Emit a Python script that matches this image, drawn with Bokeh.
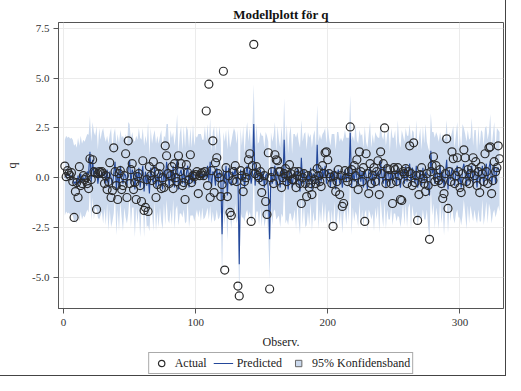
from bokeh.plotting import figure
from bokeh.layouts import column
from bokeh.models import (ColumnDataSource, FixedTicker, NumeralTickFormatter,
                          Legend, LegendItem, Range1d)
from bokeh.embed import file_html
from bokeh.resources import INLINE

obs = list(range(1, 331))

actual = [
    0.58, 0.05, 0.35, 0.2, 0.1, 0.25, -0.2, -2.0, -0.7, -0.25,
    -1.0, 0.55, -0.4, -0.3, 0.1, -0.1, 0.0, -0.3, -0.55, 0.95,
    -0.1, 0.9, 0.3, 0.25, -1.6, 0.2, 0.3, 0.25, 0.3, 0.2,
    -0.3, 0.1, -0.6, -0.2, 0.75, -1.0, -0.65, 1.5, 0.3, -0.4,
    -1.1, 0.2, 0.35, -0.6, -0.4, 0.1, 1.2, -1.0, 1.85, -0.3,
    0.4, 0.7, -0.6, -0.25, -1.1, 0.05, 0.2, -0.4, -1.2, 0.85,
    -1.65, -1.5, -0.1, -1.7, 0.55, 0.1, -0.15, 0.8, 0.3, -1.0,
    -0.35, 0.2, 0.55, -0.55, 0.0, -0.5, 1.6, 1.1, 0.2, -0.3,
    0.1, 0.55, -0.55, 0.7, 0.0, -0.2, 1.1, 0.3, 0.7, -0.4,
    -0.25, -1.1, 0.65, 0.25, -0.1, 1.15, -0.25, 0.1, 0.05, 0.15,
    0.3, -0.8, 0.1, 0.2, 0.25, 0.1, 0.3, 3.35, -0.4, 4.7,
    -1.0, 0.35, 1.85, -0.75, 0.75, 1.0, 0.2, 0.0, -0.95, -0.35,
    5.35, -4.65, 0.5, -0.95, 0.1, -1.75, -1.9, -0.15, 0.3, 0.6,
    -0.2, -5.45, -5.95, 0.35, 0.1, -0.7, -0.2, 0.0, 0.3, 0.9,
    1.2, -2.2, 0.6, 6.7, 0.2, 0.55, 0.1, 0.0, 0.3, -0.75,
    -0.2, 0.1, -1.2, -1.85, 1.25, -5.6, 0.0, 0.3, -0.3, 1.15,
    0.9, 0.85, 0.3, 0.3, -0.5, 0.0, 0.2, 0.45, -0.2, 0.1,
    0.65, 0.2, -0.1, -0.1, 0.3, -0.5, 0.1, 0.3, -0.3, -1.3,
    0.0, 0.2, -0.3, -0.95, 0.1, -0.5, -0.3, -0.85, 0.2, -0.1,
    -0.3, 0.45, 0.1, -0.2, -0.45, 0.6, 0.2, 1.25, 1.3, 0.9,
    0.2, 0.03, -0.3, -2.45, 0.1, -0.7, -0.2, 0.4, -0.85, 0.1,
    -1.45, -1.3, 0.35, 0.0, -0.2, 0.3, 2.55, 0.4, -0.3, 0.6,
    0.1, 0.9, -0.6, 1.3, 0.3, -0.2, 0.5, -2.2, 1.2, 0.2,
    -0.8, 0.7, -0.3, 0.1, 0.5, -0.2, 0.3, 0.85, -0.85, 1.3,
    0.2, 0.7, 2.5, -0.3, 0.45, 0.1, 0.4, -0.3, -1.3, 0.5,
    0.4, -0.2, 0.5, 0.1, -1.1, -1.15, 0.3, 0.2, 0.45, -0.3,
    0.3, 1.6, 0.2, -0.4, 1.75, -0.25, 0.1, -2.15, -0.85, 0.15,
    0.5, -0.05, -0.3, -0.7, 0.2, -0.4, -3.1, 0.3, 0.6, 1.05,
    -0.2, 0.6, 0.0, -0.15, 0.4, -0.3, -1.05, -0.8, 0.2, 1.95,
    -1.55, 0.3, -0.2, 1.3, 0.95, -0.3, 0.1, 1.0, 0.3, -0.5,
    -0.75, 0.2, 1.4, 1.0, -0.2, 0.4, -0.3, 0.2, 0.5, 1.0,
    0.1, 0.8, -0.4, 0.3, -0.75, 0.55, 0.2, -0.2, 1.2, 0.3,
    -0.3, 1.5, 1.55, -0.8, -0.15, 0.8, 0.3, 0.5, 1.6, 0.95,
]

predicted = [
    0.0, 0.2, 0.1, 0.15, 0.05, 0.1, 0.0, -0.3, -0.2, -0.4,
    0.1, -0.3, 0.2, -0.2, 0.0, -0.1, 0.1, 0.3, 0.2, 1.3,
    -0.2, 0.9, 0.1, 0.3, 0.5, -0.3, 0.2, 0.0, 0.3, 0.1,
    0.25, -0.3, 0.4, -0.5, 0.3, 0.0, -0.4, 0.2, 0.8, -0.6,
    0.3, -0.5, 0.6, 0.0, -0.3, 0.2, 0.1, -0.4, 0.5, 0.9,
    -0.3, 0.4, 0.2, -0.6, 0.3, -0.2, 0.5, -0.5, 0.1, 0.6,
    -0.7, 0.3, -0.4, 0.2, -0.8, 0.5, 0.0, -0.3, 0.6, -0.5,
    0.2, -0.4, 0.3, 0.1, -0.6, 0.4, -0.2, 0.8, 0.3, -0.5,
    0.4, -0.2, 0.6, -0.5, 0.3, 0.9, -0.6, 0.2, 0.4, -0.3,
    0.5, -0.4, 0.2, 0.6, -0.5, 0.3, -0.2, 0.4, -0.3, 0.1,
    0.2, 0.1, 0.3, 0.0, 0.2, -0.1, 0.3, 0.0, 0.6, -0.2,
    0.8, -0.5, 0.3, 0.2, -0.4, 0.5, -0.2, 0.3, 0.1, -2.85,
    0.4, -0.3, 0.6, -0.9, 0.5, -0.2, -0.4, 0.3, 0.1, 0.5,
    -0.3, 0.2, -4.35, 0.4, -0.2, 0.3, -0.5, 0.2, 0.6, -0.1,
    0.4, -0.3, 0.2, 2.7, -0.4, 0.5, 0.0, -0.3, 0.4, -0.2,
    0.3, -0.5, 0.1, 0.2, -0.6, -3.1, 0.5, -0.3, 0.2, 0.6,
    -0.4, 0.3, 0.0, -0.5, 0.4, -0.2, 1.9, -0.4, 0.3, -0.6,
    0.2, 0.4, -0.5, 0.1, 0.3, -0.3, 0.5, -0.2, -0.7, 1.0,
    -0.3, 0.4, -0.1, -0.5, 0.3, -0.2, 0.5, -0.6, 0.2, 0.1,
    -0.3, 1.65, -0.4, 0.3, -0.2, 0.5, 0.0, 0.6, -0.3, 0.4,
    0.2, -0.5, 0.3, -0.2, 0.5, -0.6, 0.1, 0.4, -0.3, 0.2,
    -0.5, 0.1, 0.4, -0.2, 0.3, -0.1, 2.25, -0.5, 0.3, -0.2,
    0.5, 0.0, -0.4, 0.6, -0.2, 0.3, -0.5, 0.4, 0.1, -0.6,
    0.3, 0.5, -0.3, 0.2, -0.5, 0.4, 0.0, 0.3, -0.4, 0.85,
    0.1, -0.3, 0.6, -0.5, 0.3, 0.2, -0.4, 0.5, -0.2, 0.1,
    0.3, -0.4, 0.5, -0.1, -0.5, 0.2, 0.4, -0.3, 0.6, -0.2,
    0.3, 0.7, -0.4, 0.5, 0.2, -0.3, 0.6, -0.5, 0.0, 0.3,
    -0.4, 0.5, -0.2, 0.3, 0.1, -0.5, -0.9, 1.35, 0.2, 0.5,
    -0.3, 0.4, 0.1, -0.4, 0.6, -0.2, 0.3, -0.5, 0.2, 0.9,
    -0.6, 0.4, -0.1, 0.5, 0.3, -0.4, 0.2, 0.6, -0.3, 0.1,
    -0.5, 0.4, 0.7, 0.2, -0.4, 0.5, -0.2, 0.3, 0.6, -0.3,
    0.4, 0.2, -0.5, 0.5, -0.3, 0.1, 0.6, -0.4, 0.3, 0.7,
    -0.2, 0.5, 0.8, -0.4, 0.2, 0.6, -0.3, 0.4, 0.5, 0.3,
]

band_half_width = [
    1.9, 1.9, 1.9, 1.9, 1.9, 1.9, 1.9, 1.9, 1.9, 1.9,
    1.9, 1.9, 1.9, 1.9, 1.9, 1.9, 1.9, 1.9, 1.95, 1.8,
    2.0, 1.9, 2.2, 1.8, 2.1, 1.7, 2.3, 1.9, 2.0, 2.4,
    1.8, 2.1, 1.7, 2.2, 1.9, 2.5, 1.8, 2.0, 1.7, 2.3,
    1.9, 2.2, 1.8, 2.0, 2.4, 1.7, 2.1, 1.9, 2.3, 1.8,
    2.2, 1.9, 1.7, 2.4, 1.8, 2.1, 2.0, 2.5, 1.8, 1.9,
    2.3, 1.8, 2.1, 2.6, 1.9, 2.0, 1.7, 2.4, 1.8, 2.2,
    1.9, 2.1, 1.8, 2.3, 2.0, 1.7, 2.2, 1.9, 2.4, 1.8,
    2.0, 2.2, 1.7, 2.1, 1.9, 2.3, 1.8, 2.0, 2.2, 1.7,
    2.1, 1.9, 2.4, 1.8, 2.0, 2.2, 1.7, 2.3, 1.9, 2.0,
    1.8, 2.1, 1.9, 2.2, 1.7, 2.0, 2.3, 1.8, 2.1, 1.9,
    2.2, 1.8, 2.0, 2.4, 1.7, 2.1, 1.9, 2.3, 1.8, 2.2,
    1.9, 2.1, 1.8, 2.3, 2.0, 1.7, 2.2, 1.9, 2.4, 1.8,
    2.0, 2.2, 1.9, 2.1, 1.8, 2.3, 1.7, 2.0, 2.2, 1.9,
    2.1, 1.8, 2.4, 2.0, 1.9, 2.2, 1.7, 2.1, 1.9, 2.3,
    1.8, 2.0, 2.2, 1.9, 2.4, 2.0, 1.8, 2.1, 1.9, 2.2,
    1.7, 2.3, 1.9, 2.0, 2.2, 1.8, 2.1, 1.9, 2.4, 1.8,
    2.0, 2.2, 1.7, 2.1, 1.9, 2.3, 1.8, 2.0, 2.2, 1.9,
    2.1, 1.8, 2.4, 1.9, 2.0, 2.2, 1.7, 2.1, 1.9, 2.3,
    1.8, 2.0, 2.2, 1.9, 2.1, 1.7, 2.3, 1.9, 2.0, 2.2,
    1.8, 2.1, 1.9, 2.4, 1.7, 2.0, 2.2, 1.9, 2.1, 1.8,
    2.3, 1.9, 2.0, 2.2, 1.7, 2.1, 1.9, 2.4, 1.8, 2.0,
    2.2, 1.9, 2.1, 1.8, 2.3, 1.9, 2.0, 2.2, 1.7, 2.1,
    1.9, 2.3, 1.8, 2.0, 2.2, 1.9, 2.1, 1.7, 2.4, 1.9,
    2.0, 2.2, 1.8, 2.1, 1.9, 2.3, 1.7, 2.0, 2.2, 1.9,
    2.1, 1.8, 2.4, 1.9, 2.0, 2.2, 1.7, 2.1, 1.9, 2.3,
    1.8, 2.0, 2.2, 1.9, 2.1, 1.7, 2.3, 1.9, 2.0, 2.2,
    1.8, 2.1, 1.9, 2.4, 1.7, 2.0, 2.2, 1.9, 2.1, 1.8,
    2.3, 1.9, 2.0, 2.2, 1.7, 2.1, 1.9, 2.4, 1.8, 2.0,
    2.2, 1.9, 2.1, 1.8, 2.3, 1.9, 2.0, 2.2, 1.7, 2.1,
    1.9, 2.3, 1.8, 2.0, 2.2, 1.9, 2.1, 1.7, 2.4, 1.9,
    2.0, 2.2, 1.8, 2.1, 1.9, 2.3, 1.7, 2.0, 2.2, 1.9,
    2.1, 1.8, 2.4, 1.9, 2.0, 2.2, 1.7, 2.1, 1.9, 2.0,
]

y_ticks = [-5.0, -2.5, 0.0, 2.5, 5.0, 7.5]
x_ticks = [0, 100, 200, 300]

title_text = "Modellplott för q"
x_label = "Observ."
y_label = "q"
legend_labels = ["Actual", "Predicted", "95% Konfidensband"]

upper = [pv + hw for pv, hw in zip(predicted, band_half_width)]
lower = [pv - hw for pv, hw in zip(predicted, band_half_width)]

src = ColumnDataSource(dict(obs=obs, actual=actual, predicted=predicted,
                            upper=upper, lower=lower))

FONT = "Liberation Serif"
BAND = "#cbd9ed"
LINE = "#24489a"
FRAME = "#555555"
MARK = "#2b2b2b"

# ---------------- main plot ----------------
p = figure(width=505, height=351, output_backend="svg", toolbar_location=None,
           x_range=Range1d(-3.8, 333.0), y_range=Range1d(-6.58, 7.8),
           min_border_left=58, min_border_right=2, min_border_top=22,
           min_border_bottom=0)

p.title.text = title_text
p.title.text_font = FONT
p.title.text_font_size = "13px"
p.title.text_font_style = "bold"
p.title.align = "center"
p.title.text_color = "#111111"
p.title.standoff = 2

p.varea(x="obs", y1="lower", y2="upper", source=src, fill_color=BAND, fill_alpha=1.0)
p.line(x="obs", y="predicted", source=src, line_color=LINE, line_width=1.1)
p.scatter(x="obs", y="actual", source=src, marker="circle", size=8,
          fill_color=None, line_color=MARK, line_width=1.2)

p.outline_line_color = FRAME
p.outline_line_width = 1

for ax in (p.xaxis[0], p.yaxis[0]):
    ax.axis_line_color = FRAME
    ax.major_tick_line_color = FRAME
    ax.minor_tick_line_color = None
    ax.major_tick_out = 5
    ax.major_tick_in = 0
    ax.major_label_text_font = FONT
    ax.major_label_text_font_size = "11px"
    ax.major_label_text_color = "#333333"
    ax.axis_label_text_font = FONT
    ax.axis_label_text_font_size = "12px"
    ax.axis_label_text_font_style = "normal"
    ax.axis_label_text_color = "#222222"

p.xaxis.ticker = FixedTicker(ticks=x_ticks)
p.yaxis.ticker = FixedTicker(ticks=y_ticks)
p.yaxis.formatter = NumeralTickFormatter(format="0.0")
p.xaxis.axis_label = x_label
p.yaxis.axis_label = y_label
p.xaxis.major_label_standoff = 5
p.xaxis.axis_label_standoff = 6
p.yaxis.major_label_standoff = 4
p.yaxis.axis_label_standoff = 10

p.xgrid.grid_line_color = "#ebebeb"
p.ygrid.grid_line_color = "#ebebeb"

# ---------------- legend strip ----------------
lg = figure(width=505, height=24, output_backend="svg", toolbar_location=None,
            x_range=Range1d(-2000, -1999), y_range=Range1d(-2000, -1999),
            min_border_left=0, min_border_right=0, min_border_top=0,
            min_border_bottom=0)
lg.axis.visible = False
lg.grid.visible = False
lg.outline_line_color = None

key_src = ColumnDataSource(dict(obs=obs[:2], actual=actual[:2], predicted=predicted[:2]))
k_pts = lg.scatter(x="obs", y="actual", source=key_src, marker="circle", size=0,
                   fill_color=None, line_color=MARK, line_width=1.2)
k_line = lg.line(x="obs", y="predicted", source=key_src, line_color=LINE, line_width=1.1)
k_band = lg.scatter(x="obs", y="predicted", source=key_src, marker="square", size=0,
                    fill_color=BAND, line_color="#666666", line_width=1)

legend = Legend(items=[LegendItem(label=legend_labels[0], renderers=[k_pts]),
                       LegendItem(label=legend_labels[1], renderers=[k_line]),
                       LegendItem(label=legend_labels[2], renderers=[k_band])],
                orientation="horizontal", location="center",
                label_text_font=FONT, label_text_font_size="12px",
                label_text_color="#222222",
                glyph_width=20, glyph_height=16, label_standoff=4,
                spacing=6, padding=2, margin=0,
                border_line_color=FRAME, border_line_width=1,
                background_fill_alpha=1.0)
lg.add_layout(legend, "center")

layout = column(p, lg, spacing=0)
layout.styles = {"outline": "1px solid #444444"}

open("out.html", "w").write(file_html(layout, INLINE))
